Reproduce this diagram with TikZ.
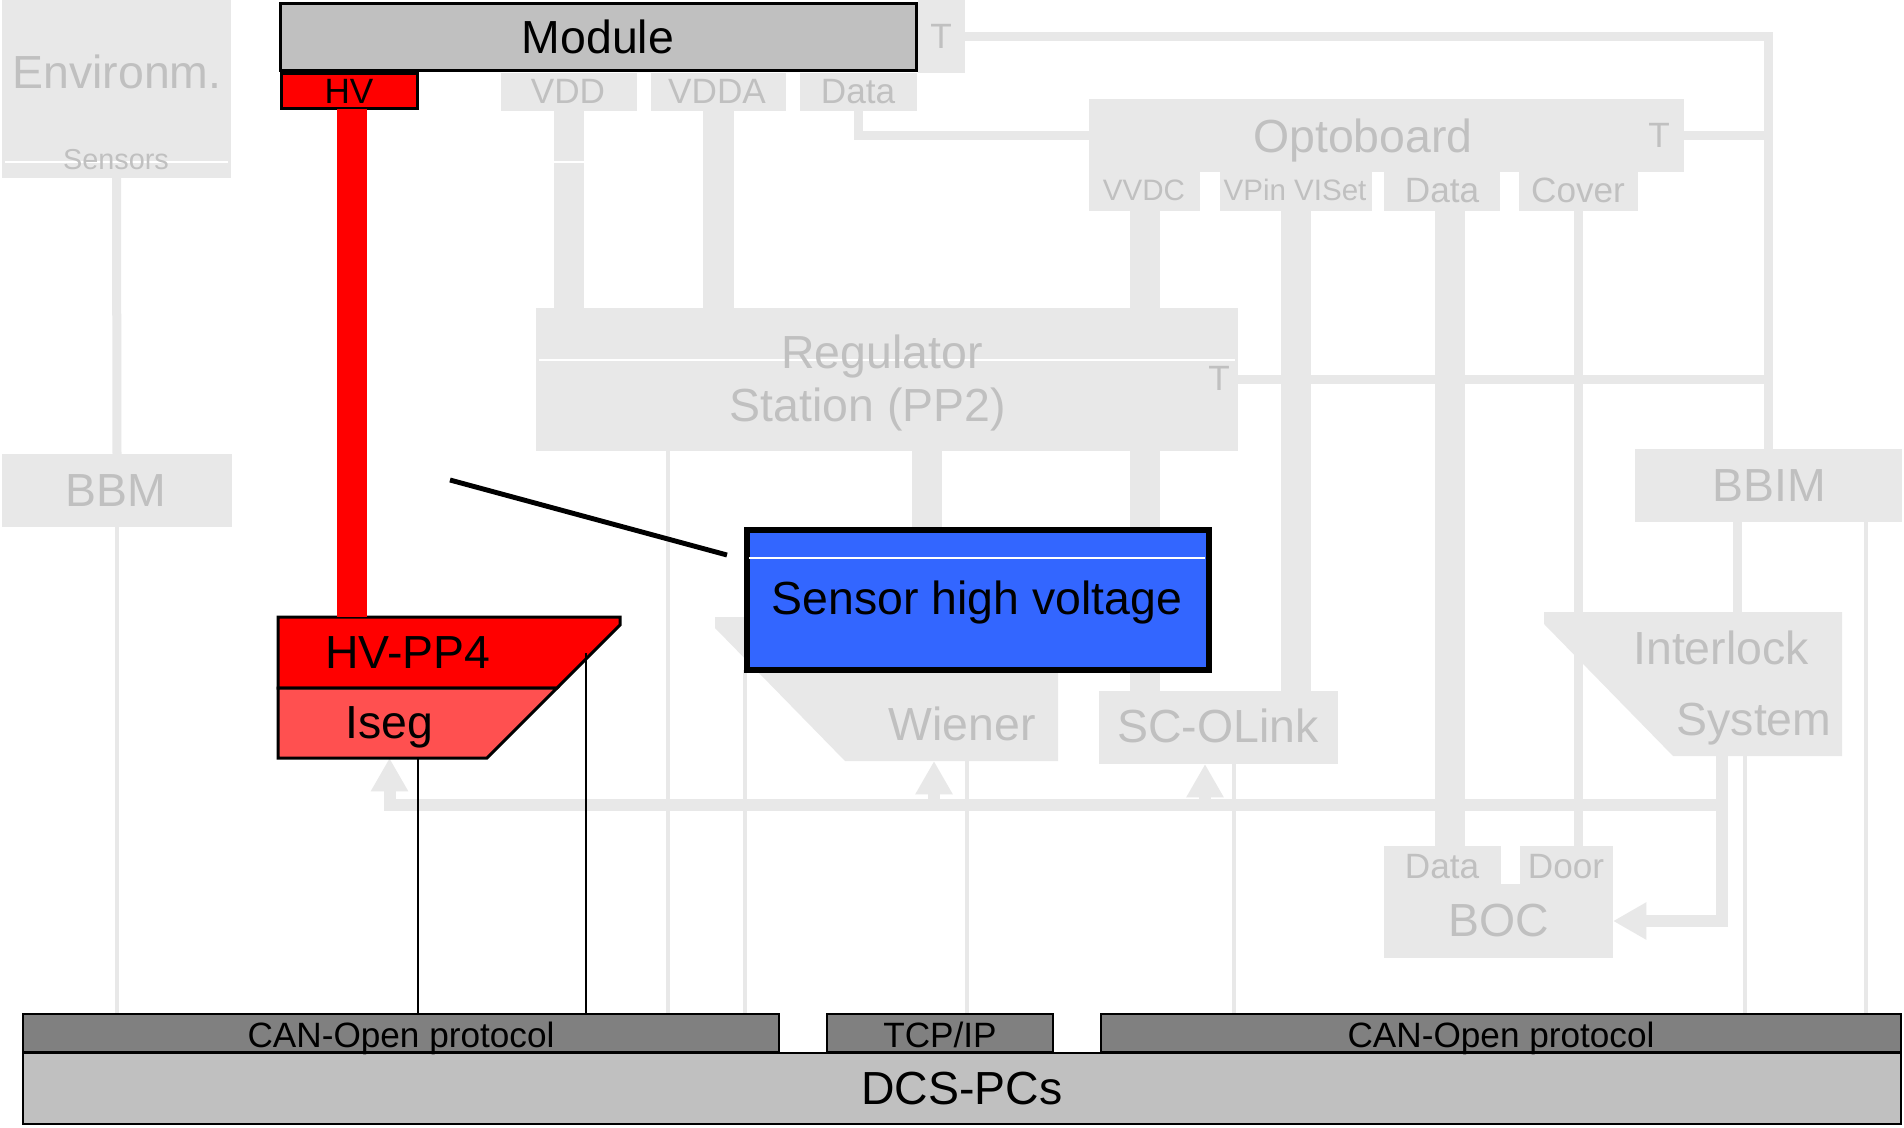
\documentclass[tikz,border=0pt]{standalone}
\usepackage{fontspec}
\setmainfont{Liberation Sans}
\usetikzlibrary{fit,calc,arrows.meta,backgrounds}
\definecolor{lg}{RGB}{232,232,232}
\definecolor{tg}{RGB}{192,192,192}
\definecolor{modg}{RGB}{192,192,192}
\definecolor{cang}{RGB}{128,128,128}
\definecolor{hvred}{RGB}{255,0,0}
\definecolor{isegred}{RGB}{255,80,80}
\definecolor{sblue}{RGB}{51,102,255}
\begin{document}
\begin{tikzpicture}[x=0.01cm,y=-0.01cm,
  every node/.style={inner sep=0pt,outer sep=0pt},
  gbox/.style={fill=lg,draw=none},
  kbox/.style={draw=black,line width=0.85pt},
  gt/.style={text=tg},
  tbig/.style={font=\fontsize{13.2}{15}\selectfont,text height=9.45pt,text depth=0pt},
  tmid/.style={font=\fontsize{10}{12}\selectfont,text height=7.16pt,text depth=0pt},
  tsmall/.style={font=\fontsize{8.4}{10}\selectfont,text height=6pt,text depth=0pt},
  ttiny/.style={font=\fontsize{8.2}{10}\selectfont,text height=5.87pt,text depth=0pt},
  tcan/.style={font=\fontsize{10}{12}\selectfont,text height=7.16pt,text depth=0pt},
  cfat/.style={draw=lg,line width=8.54pt},
  cmid/.style={draw=lg,line width=2.56pt},
  cbus/.style={draw=lg,line width=3.41pt},
  thinl/.style={draw=lg,line width=0.9pt},
  blk/.style={draw=black,line width=0.75pt},
  arrowtip/.style={-{Triangle[length=9.5pt,width=10pt]}},
  hair/.style={draw=white,line width=0.4pt},
]
\useasboundingbox (0,0) rectangle (1904,1127);

% ---------- helper x positions ----------
\coordinate (xr) at (1768,0);
\coordinate (xd) at (1450,0);
\coordinate (xw) at (926.5,0);
\coordinate (x668) at (668,0);
\coordinate (x745) at (745,0);
\coordinate (x967) at (967,0);
\coordinate (x1234) at (1234,0);
\coordinate (x1737) at (1737.5,0);
\coordinate (x1745) at (1745,0);
\coordinate (x1866) at (1866,0);
\coordinate (x1721) at (1721.5,0);
\coordinate (xi) at (389.5,0);
\coordinate (x934) at (934,0);
\coordinate (x1205) at (1205,0);
\coordinate (busy) at (0,805);
\coordinate (regT) at (1238,379.5);

% ---------- grey boxes ----------
\node[gbox,fit={(2,0) (231,178)}] (env) {};
\draw[hair] (5,162) -- (228,162);
\node[tbig,gt] (envt) at (117,72) {Environm.};
\node[ttiny,gt] (sens) at (116,159) {Sensors};

\node[gbox,fit={(918,0) (965,73)}] (modT) {};
\node[tmid,gt] (modTt) at (941,36) {T};

\node[gbox,fit={(501,73) (637,111)}] (vdd) {};
\node[tmid,gt] (vddt) at (568,91) {VDD};
\node[gbox,fit={(651,73) (786,111)}] (vdda) {};
\node[tmid,gt] (vddat) at (717,91) {VDDA};
\node[gbox,fit={(800,73) (917,111)}] (mdata) {};
\node[tmid,gt] (mdatat) at (858,91) {Data};

\node[gbox,fit={(1089,99) (1684,172)}] (opto) {};
\node[gbox,fit={(1089,170) (1200,211)}] (ovvdc) {};
\node[gbox,fit={(1220,170) (1372,211)}] (ovpin) {};
\node[gbox,fit={(1384,170) (1500,211)}] (odata) {};
\node[gbox,fit={(1519,170) (1638,211)}] (ocover) {};
\node[tbig,gt] (optot) at (1363,136) {Optoboard};
\node[tmid,gt] (optoT) at (1659,135) {T};
\node[tsmall,gt] (ovvdct) at (1144,190) {VVDC};
\node[tsmall,gt] (ovpint) at (1295,190) {VPin VISet};
\node[tmid,gt] (odatat) at (1442,190) {Data};
\node[tmid,gt] (ocovert) at (1578,190) {Cover};

\node[gbox,fit={(536,308) (1238,451)}] (reg) {};
\draw[hair] (539,360) -- (1235,360);
\node[tbig,gt] (regt1) at (882,352) {Regulator};
\node[tbig,gt] (regt2) at (868,405) {Station (PP2)};
\node[tmid,gt] (regTt) at (1219,378) {T};

\node[gbox,fit={(2,454) (232,527)}] (bbm) {};
\node[tbig,gt] (bbmt) at (116,490) {BBM};
\node[gbox,fit={(1635,449) (1902,522)}] (bbim) {};
\node[tbig,gt] (bbimt) at (1769,485) {BBIM};

\node[fit={(1544,612) (1842,756)}] (ilk) {};
\fill[lg] (ilk.north west) -- (ilk.north east) -- (ilk.south east)
  -- ($(ilk.south west)+(129,0)$) -- ($(ilk.north west)+(0,12)$) -- cycle;
\node[tbig,gt] (ilkt1) at (1721,648) {Interlock};
\node[tbig,gt] (ilkt2) at (1754,719) {System};

\node[fit={(715,617) (1058,761)}] (wien) {};
\fill[lg] (wien.north west) -- (wien.north east) -- (wien.south east)
  -- ($(wien.south west)+(130,0)$) -- ($(wien.north west)+(0,11)$) -- cycle;
\node[tbig,gt] (wient) at (962,724) {Wiener};

\node[gbox,fit={(1099,691) (1338,764)}] (sco) {};
\node[tbig,gt] (scot) at (1218,726) {SC-OLink};

\node[gbox,fit={(1384,846) (1501,886)}] (bocdata) {};
\node[gbox,fit={(1520,846) (1613,886)}] (bocdoor) {};
\node[gbox,fit={(1384,884) (1613,958)}] (boc) {};
\node[tmid,gt] (bocdatat) at (1442,866) {Data};
\node[tmid,gt] (bocdoort) at (1566,866) {Door};
\node[tbig,gt] (boct) at (1499,920) {BOC};

% ---------- coloured / black parts ----------
\node[fit={(280.5,3.5) (916.5,70.5)},fill=modg,kbox] (mod) {};
\node[tbig] (modt) at (598,37) {Module};
\node[fit={(281.5,73.5) (417.5,108.5)},fill=hvred,kbox] (hv) {};
\node[tmid] (hvt) at (349,91) {HV};

\node[fit={(278,617) (620,758)}] (pp4) {};
\filldraw[fill=hvred,kbox] (pp4.north west) -- (pp4.north east) -- ($(pp4.north east)+(0,8)$)
  -- ($(pp4.north east)+(-63,71)$) -- ($(pp4.north west)+(0,71)$) -- cycle;
\filldraw[fill=isegred,kbox] ($(pp4.north west)+(0,71)$) -- ($(pp4.north east)+(-63,71)$)
  -- ($(pp4.south west)+(209,0)$) -- (pp4.south west) -- cycle;
\node[tbig] (pp4t) at (408,652) {HV-PP4};
\node[tbig] (isegt) at (389,722) {Iseg};

\draw[draw=hvred,line width=8.54pt] ($(hv.south)+(2.5,0)$) -- ($(hv.south |- pp4.north)+(2.5,0)$);

\node[fit={(747,530) (1209,670)},fill=sblue,draw=black,line width=1.7pt] (shv) {};
\draw[hair] (749,558) -- (1205,558);
\node[tbig] (shvt) at (977,598) {Sensor high voltage};

\coordinate (sl1) at (450,480);
\coordinate (sl2) at (727,555);
\draw[black,line width=1.4pt] (sl1) -- (sl2);

% ---------- bottom bars ----------
\node[fit={(23,1014) (779,1052)},fill=cang,draw=black,line width=0.7pt] (canL) {};
\node[fit={(827,1014) (1053,1052)},fill=cang,draw=black,line width=0.7pt] (tcp) {};
\node[fit={(1101,1014) (1901,1052)},fill=cang,draw=black,line width=0.7pt] (canR) {};
\node[fit={(23,1053) (1901,1124)},fill=modg,draw=black,line width=0.7pt] (dcs) {};
\node[tcan] (canLt) at (401,1035) {CAN-Open protocol};
\node[tmid] (tcpt) at (940,1035) {TCP/IP};
\node[tcan] (canRt) at (1501,1035) {CAN-Open protocol};
\node[tbig] (dcst) at (962,1088) {DCS-PCs};

% black lines from HV-PP4 to the bus
\coordinate (pp4a) at (418,758);
\coordinate (pp4b) at (586,653);
\draw[blk] (pp4a) -- (pp4a |- canL.north);
\draw[blk] (pp4b) -- (pp4b |- canL.north);

% ---------- grey connectors (behind) ----------
\begin{pgfonlayer}{background}
\fill[white] (0,0) rectangle (1904,1127);
\draw[cmid] (env.south) -- (bbm.north);
\draw[thinl] (bbm.south) -- (bbm.south |- canL.north);
\draw[cmid] (modT.east) -| (xr |- bbim.north);
\draw[cmid] (mdata.south) |- (opto.west);
\draw[cmid] (opto.east) -- (opto.east -| xr);
\draw[cfat] (vdd.south) -- (vdd.south |- reg.north);
\draw[white,line width=0.4pt] (554,162) -- (584,162);
\draw[cfat] (vdda.south) -- (vdda.south |- reg.north);
\draw[cfat] (ovvdc.south) -- (ovvdc.south |- reg.north);
\draw[cfat] (ovvdc.south |- reg.south) -- (ovvdc.south |- sco.north);
\draw[cfat] (ovpin.south) -- (ovpin.south |- sco.north);
\draw[cfat] (odata.south -| xd) -- (bocdata.north -| xd);
\draw[draw=lg,line width=2.3pt] (ocover.south) -- (ocover.south |- bocdoor.north);
\draw[cmid] (regT) -- (regT -| xr);
\draw[cfat] (reg.south -| xw) -- (wien.north -| xw);
\draw[thinl] (reg.south -| x668) -- (x668 |- canL.north);
\draw[thinl] (shv.south -| x745) -- (x745 |- canL.north);
\draw[thinl] (wien.south -| x967) -- (x967 |- tcp.north);
\draw[thinl] (sco.south -| x1234) -- (x1234 |- canR.north);
\draw[cmid] (bbim.south -| x1737) -- (ilk.north -| x1737);
\draw[thinl] (bbim.south -| x1866) -- (x1866 |- canR.north);
\draw[thinl] (ilk.south -| x1745) -- (x1745 |- canR.north);
\draw[cbus,arrowtip] (ilk.south -| x1721) |- (boc.east);
\draw[cbus,arrowtip] (x1721 |- busy) -| (pp4.south -| xi);
\draw[cbus,arrowtip] (x934 |- busy) -- (wien.south -| x934);
\draw[cbus,arrowtip] (x1205 |- busy) -- (sco.south -| x1205);
\end{pgfonlayer}
\end{tikzpicture}
\end{document}
